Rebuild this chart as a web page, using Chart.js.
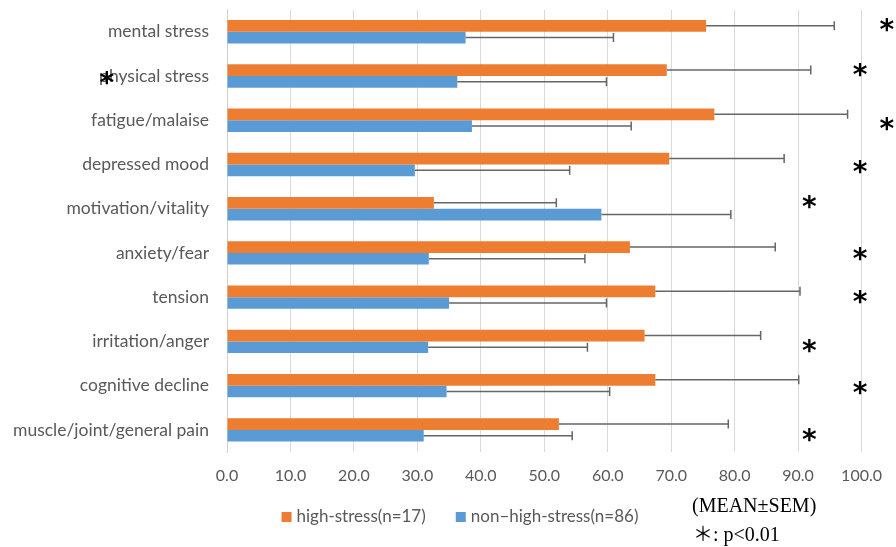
<!DOCTYPE html>
<html>
<head>
<meta charset="utf-8">
<script src="https://cdn.jsdelivr.net/npm/chart.js@4.4.1/dist/chart.umd.min.js"></script>
<style>
html, body { margin: 0; padding: 0; background: #ffffff; }
#wrap { width: 896px; height: 547px; }
</style>
</head>
<body>
<div id="wrap"><canvas id="c" width="896" height="547"></canvas></div>
<script>
// ---- data ----
const categories = ['mental stress', 'physical stress', 'fatigue/malaise', 'depressed mood',
  'motivation/vitality', 'anxiety/fear', 'tension', 'irritation/anger',
  'cognitive decline', 'muscle/joint/general pain'];
const seriesNames = ['high-stress(n=17)', 'non\u2013high-stress(n=86)'];
const highMean = [75.5, 69.3, 76.8, 69.7, 32.6, 63.5, 67.5, 65.8, 67.5, 52.3];
const highSem  = [20.2, 22.7, 21.0, 18.1, 19.3, 22.9, 22.8, 18.3, 22.6, 26.7];
const nonMean  = [37.6, 36.3, 38.6, 29.6, 59.0, 31.8, 35.0, 31.7, 34.6, 31.0];
const nonSem   = [23.3, 23.5, 25.1, 24.4, 20.4, 24.6, 24.8, 25.1, 25.7, 23.4];
const xTickLabels = ['0.0', '10.0', '20.0', '30.0', '40.0', '50.0', '60.0', '70.0', '80.0', '90.0', '100.0'];
// significance marks (x in axis units, vertical shift as fraction of a category band)
const sigText = '*';
const sigX  = [104.0, 99.8, 104.0, 99.8, 91.8, 99.8, 99.8, 91.8, 99.8, 91.8];
const sigDy = [-0.15, -0.14, 0.09, 0.05, -0.16, 0.02, -0.01, 0.10, 0.06, 0.11];
const strayMark = { x: -18.9, cat: 1, dy: 0.05 };
const notes = ['(MEAN\u00B1SEM)', '\uFF0A: p<0.01'];

const COLORS = ['#ED7D31', '#5B9BD5'];

const errorBars = {
  id: 'errorBars',
  afterDatasetsDraw(chart) {
    const ctx = chart.ctx, xs = chart.scales.x;
    const sems = [highSem, nonSem];
    chart.data.datasets.forEach((ds, di) => {
      const meta = chart.getDatasetMeta(di);
      meta.data.forEach((bar, i) => {
        const x0 = xs.getPixelForValue(ds.data[i]);
        const x1 = xs.getPixelForValue(ds.data[i] + sems[di][i]);
        const y = bar.y;
        ctx.save();
        ctx.strokeStyle = '#666666';
        ctx.lineWidth = 1.5;
        ctx.beginPath();
        ctx.moveTo(x0, y); ctx.lineTo(x1, y);
        ctx.moveTo(x1, y - 4.5); ctx.lineTo(x1, y + 4.5);
        ctx.stroke();
        ctx.restore();
      });
    });
  }
};

const marks = {
  id: 'marks',
  afterDraw(chart) {
    const ctx = chart.ctx, xs = chart.scales.x, ys = chart.scales.y;
    const band = ys.getPixelForValue(1) - ys.getPixelForValue(0);
    ctx.save();
    ctx.fillStyle = '#000000';
    ctx.font = 'bold 28px "DejaVu Sans"';
    ctx.textAlign = 'left';
    ctx.textBaseline = 'alphabetic';
    const m = ctx.measureText(sigText);
    const inkL = -m.actualBoundingBoxLeft, inkR = m.actualBoundingBoxRight;
    const vshift = (m.actualBoundingBoxAscent - m.actualBoundingBoxDescent) / 2;
    const star = (px, py) => ctx.fillText(sigText, px - (inkL + inkR) / 2, py + vshift);
    sigX.forEach((v, i) => {
      star(xs.getPixelForValue(v), ys.getPixelForValue(i) + sigDy[i] * band);
    });
    star(xs.getPixelForValue(strayMark.x), ys.getPixelForValue(strayMark.cat) + strayMark.dy * band);

    // legend (drawn from the datasets)
    ctx.font = '17px Lato';
    ctx.textBaseline = 'middle';
    ctx.textAlign = 'left';
    const items = chart.data.datasets.map(ds => ({ text: ds.label, color: ds.backgroundColor, w: ctx.measureText(ds.label).width }));
    const box = 10, gapBox = 5, gapItem = 30;
    const total = items.reduce((s, it) => s + box + gapBox + it.w, 0) + gapItem * (items.length - 1);
    let lx = 460 - total / 2;
    const ly = 517;
    items.forEach(it => {
      ctx.fillStyle = it.color;
      ctx.fillRect(lx, ly - box / 2, box, box);
      ctx.fillStyle = '#595959';
      ctx.fillText(it.text, lx + box + gapBox, ly);
      lx += box + gapBox + it.w + gapItem;
    });

    // notes
    ctx.fillStyle = '#000000';
    ctx.font = '20px "Liberation Serif", "Noto Sans CJK JP", serif';
    ctx.fillText(notes[0], 692, 507);
    ctx.fillText(notes[1], 693, 535.5);
    ctx.restore();
  }
};

new Chart(document.getElementById('c'), {
  type: 'bar',
  data: {
    labels: categories,
    datasets: [
      { label: seriesNames[0], data: highMean, backgroundColor: COLORS[0], borderWidth: 0,
        categoryPercentage: 0.529, barPercentage: 1.0 },
      { label: seriesNames[1], data: nonMean, backgroundColor: COLORS[1], borderWidth: 0,
        categoryPercentage: 0.529, barPercentage: 1.0 }
    ]
  },
  options: {
    indexAxis: 'y',
    responsive: false,
    animation: false,
    events: [],
    layout: { padding: { top: 9.6, bottom: 55, left: 0, right: 29.5 } },
    scales: {
      x: {
        min: 0, max: 100,
        ticks: {
          stepSize: 10, autoSkip: false, maxRotation: 0,
          color: '#595959', font: { family: 'Lato', size: 16 }, padding: 14,
          callback: (v, i) => xTickLabels[i]
        },
        grid: { color: '#D9D9D9', lineWidth: 1, drawTicks: false },
        border: { display: false },
        afterFit(s) { s.height = 40; s.paddingTop = 0; s.paddingBottom = 0; }
      },
      y: {
        grid: { display: false, drawTicks: false },
        border: { display: true, color: '#D0D0D0', width: 1 },
        ticks: { color: '#595959', font: { family: 'Lato', size: 17.5 }, padding: 18 },
        afterFit(s) { s.width = 227; s.paddingTop = 0; s.paddingBottom = 0; }
      }
    },
    plugins: {
      tooltip: { enabled: false },
      legend: { display: false }
    }
  },
  plugins: [errorBars, marks]
});
</script>
</body>
</html>
